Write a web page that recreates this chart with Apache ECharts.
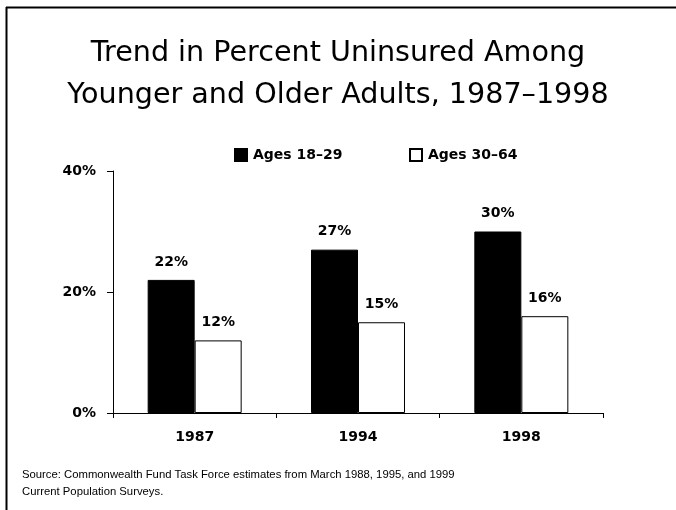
<!DOCTYPE html>
<html>
<head>
<meta charset="utf-8">
<script src="https://cdn.jsdelivr.net/npm/echarts@6/dist/echarts.min.js"></script>
<style>
  html, body { margin: 0; padding: 0; background: #fff; }
  #main { width: 676px; height: 510px; }
</style>
</head>
<body>
<div id="main"></div>
<script>
// data
const years = ['1987', '1994', '1998']
const young = [22, 27, 30]
const older = [12, 15, 16]
const seriesNames = ['Ages 18\u201329', 'Ages 30\u201364']
const yTicks = [0, 20, 40]

const boldFont = 'DejaVu Sans'

const myChart = echarts.init(document.getElementById('main'))

const barLabel = {
  show: true,
  position: 'top',
  distance: 11,
  formatter: '{c}%',
  color: '#000',
  fontFamily: boldFont,
  fontWeight: 'bold',
  fontSize: 14
}

// one legend per series so each sits where it does on the slide
const legendBase = {
  top: 143,
  itemWidth: 12,
  itemHeight: 12,
  itemGap: 6,
  icon: 'rect',
  textStyle: {
    fontFamily: boldFont,
    fontWeight: 'bold',
    fontSize: 14,
    color: '#000',
    padding: [0, 0, 0, 1]
  }
}

const option = {
  backgroundColor: '#fff',
  animation: false,
  title: {
    text: 'Trend in Percent Uninsured Among\nYounger and Older Adults, 1987\u20131998',
    left: 'center',
    top: 28,
    textStyle: {
      fontFamily: 'DejaVu Sans',
      fontWeight: 'normal',
      fontSize: 28.6,
      lineHeight: 42,
      color: '#000'
    }
  },
  legend: [
    Object.assign({}, legendBase, { left: 229, data: [seriesNames[0]] }),
    Object.assign({}, legendBase, { left: 404, data: [seriesNames[1]] })
  ],
  grid: { left: 113, right: 73, top: 171, bottom: 97 },
  xAxis: {
    type: 'category',
    data: years,
    axisLine: { lineStyle: { color: '#000', width: 1 } },
    axisTick: { show: true, length: 5, lineStyle: { color: '#000' } },
    axisLabel: {
      margin: 17,
      color: '#000',
      fontFamily: boldFont,
      fontWeight: 'bold',
      fontSize: 14
    }
  },
  yAxis: {
    type: 'value',
    min: yTicks[0],
    max: yTicks[yTicks.length - 1],
    interval: yTicks[1] - yTicks[0],
    splitLine: { show: false },
    axisLine: { show: true, lineStyle: { color: '#000', width: 1 } },
    axisTick: { show: true, length: 6, lineStyle: { color: '#000' } },
    axisLabel: {
      formatter: '{value}%',
      margin: 17,
      color: '#000',
      fontFamily: boldFont,
      fontWeight: 'bold',
      fontSize: 14
    }
  },
  series: [
    {
      name: seriesNames[0],
      type: 'bar',
      data: young,
      barWidth: 47,
      barGap: '0%',
      itemStyle: { color: '#000', borderColor: '#000', borderWidth: 1 },
      label: barLabel
    },
    {
      name: seriesNames[1],
      type: 'bar',
      data: older,
      barWidth: 47,
      itemStyle: { color: '#fff', borderColor: '#000', borderWidth: 1 },
      label: barLabel
    }
  ],
  graphic: [
    // frame around the slide
    { type: 'line', shape: { x1: 6, y1: 7.5, x2: 676, y2: 7.5 }, style: { stroke: '#000', lineWidth: 2 } },
    { type: 'line', shape: { x1: 6.5, y1: 7, x2: 6.5, y2: 510 }, style: { stroke: '#000', lineWidth: 2 } },
    {
      type: 'text',
      left: 22,
      top: 466,
      style: {
        text: 'Source: Commonwealth Fund Task Force estimates from March 1988, 1995, and 1999\nCurrent Population Surveys.',
        fontFamily: 'Liberation Sans',
        fontSize: 11.3,
        lineHeight: 17,
        fill: '#000'
      }
    }
  ]
}

option && myChart.setOption(option)
</script>
</body>
</html>
